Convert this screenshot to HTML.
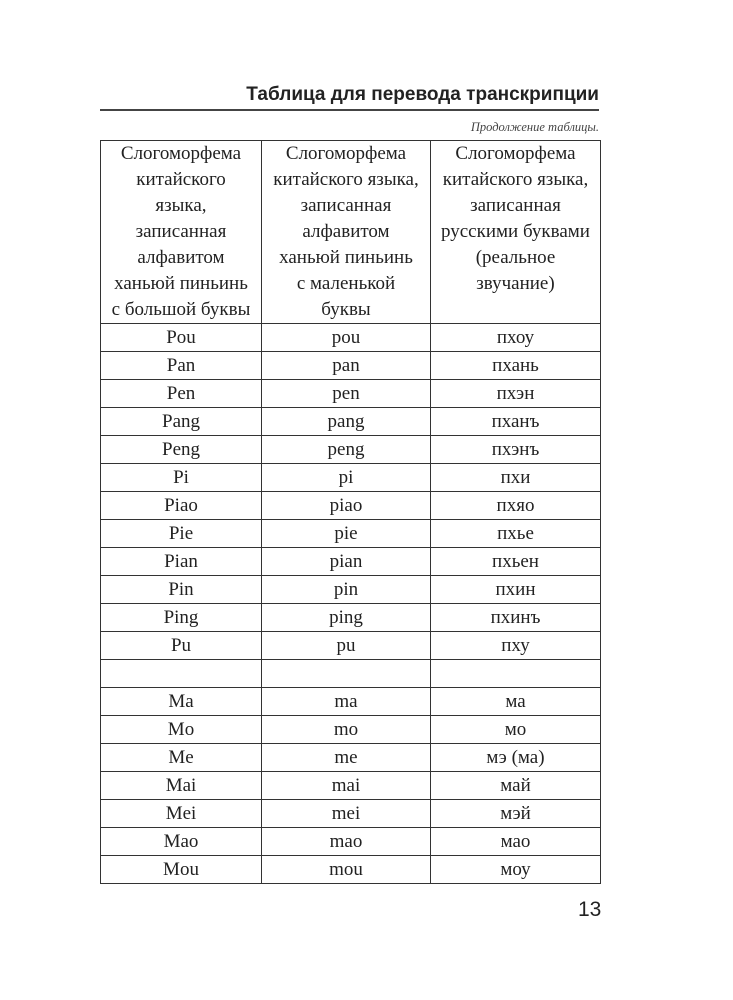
<!DOCTYPE html>
<html><head><meta charset="utf-8"><style>
body{margin:0;width:733px;height:1000px;background:#fff;position:relative;overflow:hidden;font-family:"Liberation Serif",serif;color:#222}
.t{position:absolute;right:134px;top:84px;font:bold 19px "Liberation Sans",sans-serif;color:#222;white-space:nowrap}
.rule{position:absolute;left:100px;top:109px;width:499px;height:1.5px;background:#444}
.c{position:absolute;right:134px;top:120px;font:italic 12.5px "Liberation Serif",serif;color:#444}
table{position:absolute;left:100px;top:140px;width:500px;border-collapse:collapse;table-layout:fixed}
td{border:1.5px solid #333;text-align:center;padding:0;font-size:19px;height:27px;line-height:26px}
tr.h td{height:179px;vertical-align:top;line-height:26px;padding-top:0}
.n{position:absolute;left:578px;top:898px;font:21px "Liberation Sans",sans-serif;color:#222}
</style></head><body>
<div class="t">Таблица для перевода транскрипции</div>
<div class="rule"></div>
<div class="c">Продолжение таблицы.</div>
<table>
<colgroup><col style="width:161px"><col style="width:169px"><col style="width:170px"></colgroup>
<tr class="h"><td>Слогоморфема<br>китайского<br>языка,<br>записанная<br>алфавитом<br>ханьюй пиньинь<br>с большой буквы</td><td>Слогоморфема<br>китайского языка,<br>записанная<br>алфавитом<br>ханьюй пиньинь<br>с маленькой<br>буквы</td><td>Слогоморфема<br>китайского языка,<br>записанная<br>русскими буквами<br>(реальное<br>звучание)</td></tr>
<tr><td>Pou</td><td>pou</td><td>пхоу</td></tr>
<tr><td>Pan</td><td>pan</td><td>пхань</td></tr>
<tr><td>Pen</td><td>pen</td><td>пхэн</td></tr>
<tr><td>Pang</td><td>pang</td><td>пханъ</td></tr>
<tr><td>Peng</td><td>peng</td><td>пхэнъ</td></tr>
<tr><td>Pi</td><td>pi</td><td>пхи</td></tr>
<tr><td>Piao</td><td>piao</td><td>пхяо</td></tr>
<tr><td>Pie</td><td>pie</td><td>пхье</td></tr>
<tr><td>Pian</td><td>pian</td><td>пхьен</td></tr>
<tr><td>Pin</td><td>pin</td><td>пхин</td></tr>
<tr><td>Ping</td><td>ping</td><td>пхинъ</td></tr>
<tr><td>Pu</td><td>pu</td><td>пху</td></tr>
<tr><td></td><td></td><td></td></tr>
<tr><td>Ma</td><td>ma</td><td>ма</td></tr>
<tr><td>Mo</td><td>mo</td><td>мо</td></tr>
<tr><td>Me</td><td>me</td><td>мэ (ма)</td></tr>
<tr><td>Mai</td><td>mai</td><td>май</td></tr>
<tr><td>Mei</td><td>mei</td><td>мэй</td></tr>
<tr><td>Mao</td><td>mao</td><td>мао</td></tr>
<tr><td>Mou</td><td>mou</td><td>моу</td></tr>
</table>
<div class="n">13</div>
</body></html>
